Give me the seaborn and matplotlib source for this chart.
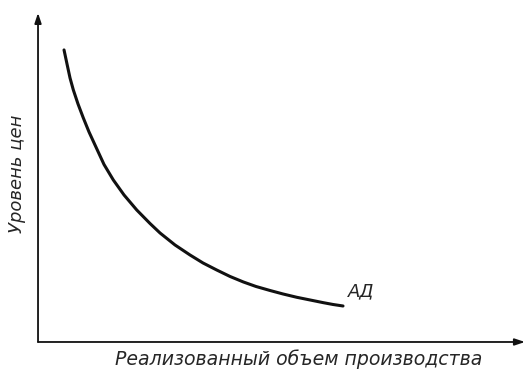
import numpy as np
import pandas as pd
import matplotlib.pyplot as plt
import seaborn as sns

sns.set_style("white")
plt.rcParams['font.family'] = ['DejaVu Sans']

# точки кривой АД (условные единицы 0..100)
output_vals = [5.34, 5.95, 6.57, 7.25, 8.21, 9.30, 10.47, 12.05, 13.55, 15.46,
               17.66, 20.27, 22.99, 25.05, 28.13, 31.21, 33.88, 36.69, 39.43,
               42.16, 44.76, 47.64, 50.31, 53.12, 55.85, 58.58, 60.57, 62.63]
price_vals = [88.75, 84.50, 80.24, 76.60, 72.34, 68.09, 63.83, 58.75, 53.95, 49.24,
              44.68, 40.12, 36.02, 33.13, 29.48, 26.44, 24.01, 21.88, 19.91,
              18.24, 16.87, 15.65, 14.59, 13.59, 12.77, 11.95, 11.40, 10.94]
curve_label = 'АД'
x_label = 'Реализованный объем производства'
y_label = 'Уровень цен'

df = pd.DataFrame({'output': output_vals, 'price': price_vals})

fig = plt.figure(figsize=(5.31, 3.69), dpi=100)
ax = fig.add_axes([0.0716, 0.0732, 0.9171, 0.8918])

sns.lineplot(data=df, x='output', y='price', ax=ax, color='#111111',
             linewidth=2.2, sort=False)

ax.set_xlim(0, 100)
ax.set_ylim(0, 100)
for s in ax.spines.values():
    s.set_visible(False)
ax.set_xticks([])
ax.set_yticks([])
ax.set_xlabel('')
ax.set_ylabel('')

# оси со стрелками
arrow = dict(arrowstyle='-|>,head_length=0.6,head_width=0.2', color='#111111',
             lw=1.3, shrinkA=0, shrinkB=0)
ax.annotate('', xy=(0, 1.0), xytext=(0, 0), xycoords='axes fraction',
            arrowprops=arrow, annotation_clip=False)
ax.annotate('', xy=(1.0, 0), xytext=(0, 0), xycoords='axes fraction',
            arrowprops=arrow, annotation_clip=False)

ax.text(63.7, 15.5, curve_label, fontsize=13, style='italic',
        ha='left', va='center')

fig.text(0.563, 0.027, x_label, fontsize=13.6, style='italic',
         ha='center', va='center')
fig.text(0.032, 0.528, y_label, fontsize=13, style='italic',
         ha='center', va='center', rotation=90)

plt.savefig('out.png', dpi=100)
